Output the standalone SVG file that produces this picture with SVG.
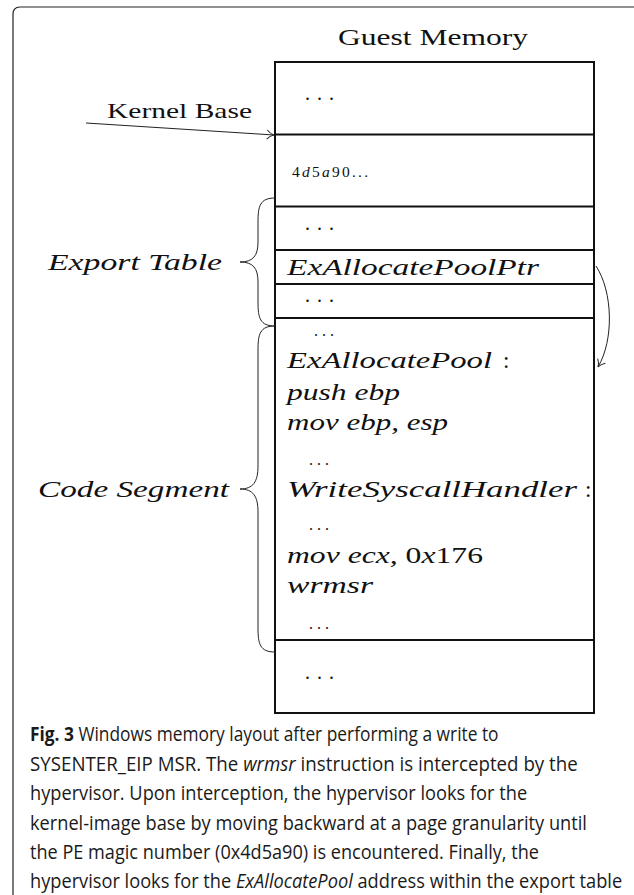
<svg xmlns="http://www.w3.org/2000/svg" width="634" height="895" viewBox="0 0 634 895">
  <style>
    .frame { fill: none; stroke: #222; stroke-width: 1.2; }
    .cell { fill: #fff; stroke: #111; stroke-width: 2; }
    .sep { stroke: #111; stroke-width: 2; }
    .brace { fill: none; stroke: #222; stroke-width: 1; }
    .conn { fill: none; stroke: #222; stroke-width: 1; }
    .rm { font-family: "Liberation Serif", "DejaVu Serif", serif; fill: #111; }
    .mi { font-family: "Liberation Serif", "DejaVu Serif", serif; font-style: italic; fill: #111; }
    .cap { font-family: "Open Sans", "Liberation Sans", sans-serif; font-size: 19.6px; fill: #1a1a1a; }
    .b { font-weight: bold; }
    .i { font-style: italic; }
  </style>
  <defs>
    <marker id="tip" markerWidth="12" markerHeight="12" refX="10" refY="6" orient="auto" markerUnits="userSpaceOnUse">
      <path d="M3,1.5 Q6,5 10,6 Q6,7 3,10.5" fill="none" stroke="#222" stroke-width="1"/>
    </marker>
  </defs>

  <!-- outer figure frame, open to the right and bottom -->
  <path class="frame" d="M13,895 L13,14 Q13,7 20,7 L640,7"/>

  <!-- title -->
  <text class="rm" x="338" y="45" font-size="24" textLength="190" lengthAdjust="spacingAndGlyphs">Guest Memory</text>

  <!-- memory column -->
  <g id="memory">
    <rect class="cell" x="275" y="62" width="319" height="651"/>
    <line class="sep" x1="275" y1="134.5" x2="594" y2="134.5"/>
    <line class="sep" x1="275" y1="206.5" x2="594" y2="206.5"/>
    <line class="sep" x1="275" y1="250" x2="594" y2="250"/>
    <line class="sep" x1="275" y1="284" x2="594" y2="284"/>
    <line class="sep" x1="275" y1="318" x2="594" y2="318"/>
    <line class="sep" x1="275" y1="640" x2="594" y2="640"/>
  </g>

  <g id="cell-top">
    <text class="rm" x="305" y="100" font-size="20" textLength="29" lengthAdjust="spacing">. . .</text>
  </g>
  <g id="cell-header">
    <text x="292" y="177" font-size="15.5" textLength="76" lengthAdjust="spacing"><tspan class="rm">4</tspan><tspan class="mi">d</tspan><tspan class="rm">5</tspan><tspan class="mi">a</tspan><tspan class="rm">90...</tspan></text>
  </g>
  <g id="cell-export-a">
    <text class="rm" x="305" y="230" font-size="20" textLength="29" lengthAdjust="spacing">. . .</text>
  </g>
  <g id="cell-ptr">
    <text class="mi" x="287" y="275" font-size="23" textLength="252" lengthAdjust="spacingAndGlyphs">ExAllocatePoolPtr</text>
  </g>
  <g id="cell-export-b">
    <text class="rm" x="305" y="302" font-size="20" textLength="29" lengthAdjust="spacing">. . .</text>
  </g>
  <g id="cell-code">
    <text class="rm" x="314" y="336" font-size="16" textLength="20" lengthAdjust="spacing">...</text>
    <text x="287" y="368" font-size="23"><tspan class="mi" textLength="205" lengthAdjust="spacingAndGlyphs">ExAllocatePool</tspan><tspan class="rm" x="503">:</tspan></text>
    <text class="mi" x="287" y="400" font-size="23" textLength="113" lengthAdjust="spacingAndGlyphs">push ebp</text>
    <text class="mi" x="287" y="430" font-size="23" textLength="161" lengthAdjust="spacingAndGlyphs">mov ebp, esp</text>
    <text class="rm" x="309" y="465" font-size="16" textLength="20" lengthAdjust="spacing">...</text>
    <text x="287" y="497" font-size="23"><tspan class="mi" textLength="290" lengthAdjust="spacingAndGlyphs">WriteSyscallHandler</tspan><tspan class="rm" x="585">:</tspan></text>
    <text class="rm" x="309" y="530" font-size="16" textLength="20" lengthAdjust="spacing">...</text>
    <text x="287" y="563" font-size="23" textLength="196" lengthAdjust="spacingAndGlyphs"><tspan class="mi">mov ecx, </tspan><tspan class="rm">0</tspan><tspan class="mi">x</tspan><tspan class="rm">176</tspan></text>
    <text class="mi" x="287" y="593" font-size="23" textLength="86" lengthAdjust="spacingAndGlyphs">wrmsr</text>
    <text class="rm" x="309" y="629" font-size="16" textLength="20" lengthAdjust="spacing">...</text>
  </g>
  <g id="cell-bottom">
    <text class="rm" x="305" y="679" font-size="20" textLength="29" lengthAdjust="spacing">. . .</text>
  </g>

  <!-- side labels -->
  <g id="kernel-base">
    <text class="rm" x="107" y="118" font-size="21" textLength="145" lengthAdjust="spacingAndGlyphs">Kernel Base</text>
  </g>
  <g id="export-table">
    <text class="mi" x="48" y="270" font-size="23" textLength="174" lengthAdjust="spacingAndGlyphs">Export Table</text>
    <path class="brace" d="M275,198 C260,198 258,206 258,222 L258,242 C258,256 253,262 240,262 C253,262 258,268 258,282 L258,302 C258,318 260,326 275,326"/>
  </g>
  <g id="code-segment">
    <text class="mi" x="38" y="497" font-size="23" textLength="191" lengthAdjust="spacingAndGlyphs">Code Segment</text>
    <path class="brace" d="M275,326 C260,326 258,334 258,350 L258,466 C258,482 253,489 240,489 C253,489 258,496 258,512 L258,628 C258,644 260,652 275,652"/>
  </g>

  <!-- connectors -->
  <g id="connectors">
    <path class="conn" d="M86,123 L274,135" marker-end="url(#tip)"/>
    <path class="conn" d="M596,266 C613,292 614,340 598,367" marker-end="url(#tip)"/>
  </g>

  <!-- caption: horizontally condensed lines -->
  <g id="caption">
    <text class="cap" transform="translate(30,741) scale(0.885,1)"><tspan class="b">Fig. 3</tspan> Windows memory layout after performing a write to</text>
    <text class="cap" transform="translate(30,770.5) scale(0.955,1)">SYSENTER_EIP MSR. The <tspan class="i">wrmsr</tspan> instruction is intercepted by the</text>
    <text class="cap" transform="translate(30,800) scale(0.93,1)">hypervisor. Upon interception, the hypervisor looks for the</text>
    <text class="cap" transform="translate(30,829.5) scale(0.93,1)">kernel-image base by moving backward at a page granularity until</text>
    <text class="cap" transform="translate(30,859) scale(0.925,1)">the PE magic number (0x4d5a90) is encountered. Finally, the</text>
    <text class="cap" transform="translate(30,888) scale(0.93,1)">hypervisor looks for the <tspan class="i">ExAllocatePool</tspan> address within the export table</text>
  </g>
</svg>
